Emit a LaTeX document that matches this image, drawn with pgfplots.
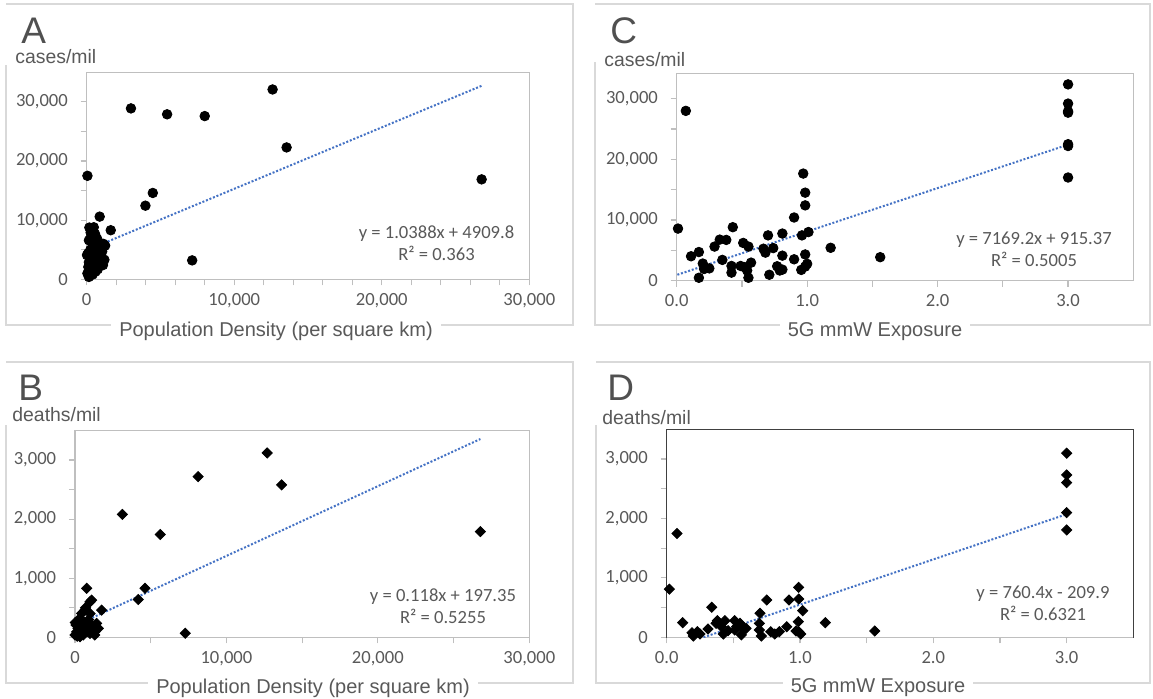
\documentclass[border=0pt]{standalone}
\usepackage{fontspec}
\setmainfont{Carlito}
\newfontfamily\hel{Liberation Sans}
\usepackage{pgfplots}
\pgfplotsset{compat=1.18}
\definecolor{txt}{HTML}{595959}
\definecolor{frm}{HTML}{D9D9D9}
\definecolor{boxc}{HTML}{BFBFBF}
\definecolor{trend}{HTML}{4472C4}
\newcommand{\tfont}{\fontsize{9.3}{11}\selectfont}
\pgfplotsset{
  common/.style={
    scale only axis, anchor=south west,
    axis line style={boxc, line width=0.6pt},
    tick style={boxc, line width=0.6pt},
    tick align=outside, major tick length=3pt, minor tick length=3pt,
    xtick pos=left, ytick pos=left,
    scaled ticks=false,
    /pgf/number format/assume math mode=true,
    every tick label/.append style={font=\tfont, text=txt},
    yticklabel style={font=\tfont, text=txt, xshift=-2.9pt},
    xticklabel style={font=\tfont, text=txt, yshift=-0.4pt},
    xmin=0, ymin=0, clip=true,
  },
  dens/.style={xmin=0, xmax=30000, xtick={0,10000,20000,30000},
    xticklabels={0,{10,000},{20,000},{30,000}}},
  expo/.style={xmin=0, xmax=3.5, xtick={0,1,2,3}, minor x tick num=1,
    xticklabels={0.0,1.0,2.0,3.0}},
  cases/.style={ytick={0,10000,20000,30000}, minor y tick num=1,
    yticklabels={0,{10,000},{20,000},{30,000}}},
  deaths/.style={ymax=3500, ytick={0,1000,2000,3000}, minor y tick num=1,
    yticklabels={0,{1,000},{2,000},{3,000}}},
  dot/.style={only marks, mark=*, mark size=2.4pt, mark options={draw=black, fill=black}},
  dia/.style={only marks, mark=square*, mark size=1.8pt, mark options={draw=black, fill=black, rotate=45}},
  tl/.style={draw=trend, line width=1pt, dash pattern=on 1pt off 0.9pt, mark=none},
}
\begin{document}
\begin{tikzpicture}
\path[use as bounding box] (0pt,0pt) rectangle (576.5pt,-349pt);
\begin{scope}[x=0.5pt,y=-0.5pt]
% frames
\draw[frm, line width=0.75pt] (6,65) -- (6,325) -- (573,325) -- (573,4) -- (6,4);
\draw[frm, line width=0.75pt] (595,62) -- (595,325) -- (1150,325) -- (1150,4) -- (595,4);
\draw[frm, line width=0.75pt] (6,425) -- (6,683) -- (573,683) -- (573,362) -- (6,362);
\draw[frm, line width=0.75pt] (596,425) -- (596,683) -- (1150,683) -- (1150,362) -- (596,362);
% letters
\node[anchor=base west, inner sep=0, text=txt!90!black, font=\hel\fontsize{18.5}{20}\selectfont] at (21,43) {A};
\node[anchor=base west, inner sep=0, text=txt!90!black, font=\hel\fontsize{18.5}{20}\selectfont] at (610,43) {C};
\node[anchor=base west, inner sep=0, text=txt!90!black, font=\hel\fontsize{18.5}{20}\selectfont] at (18,400) {B};
\node[anchor=base west, inner sep=0, text=txt!90!black, font=\hel\fontsize{18.5}{20}\selectfont] at (607,400) {D};
% y labels
\node[anchor=base west, inner sep=0, text=txt, font=\hel\fontsize{9.7}{11}\selectfont] at (15,63) {cases/mil};
\node[anchor=base west, inner sep=0, text=txt, font=\hel\fontsize{9.7}{11}\selectfont] at (604,66) {cases/mil};
\node[anchor=base west, inner sep=0, text=txt, font=\hel\fontsize{9.7}{11}\selectfont] at (12,421) {deaths/mil};
\node[anchor=base west, inner sep=0, text=txt, font=\hel\fontsize{9.7}{11}\selectfont] at (602,424) {deaths/mil};
% x labels
\node[anchor=base, fill=white, inner xsep=4pt, inner ysep=1pt, text=txt, font=\hel\fontsize{10}{12}\selectfont] at (276,336) {Population Density (per square km)};
\node[anchor=base, fill=white, inner xsep=4pt, inner ysep=1pt, text=txt, font=\hel\fontsize{10}{12}\selectfont] at (875,336) {5G mmW Exposure};
\node[anchor=base, fill=white, inner xsep=4pt, inner ysep=1pt, text=txt, font=\hel\fontsize{10}{12}\selectfont] at (313,693) {Population Density (per square km)};
\node[anchor=base, fill=white, inner xsep=4pt, inner ysep=1pt, text=txt, font=\hel\fontsize{10}{12}\selectfont] at (878,692) {5G mmW Exposure};
\end{scope}

% ---------------- A ----------------
\begin{axis}[common, dens, cases, at={(43.35pt,-139.65pt)}, width=221.3pt, height=103.5pt,
  ymax=35000, minor x tick num=4]
\addplot[tl] coordinates {(0,4909.8) (26770,32719)};
\addplot[dot] coordinates {
(12600,32100) (3000,28900) (5450,27900) (8000,27600) (13550,22300) (26770,16900)
(50,17500) (4480,14600) (3980,12450) (880,10600) (1630,8300) (7150,3200)
(180,8750) (480,8800) (270,7900) (560,7700) (300,7200) (700,6900) (150,6600)
(680,6400) (910,6100) (1130,6000) (1250,5700) (400,5500) (820,5300) (1050,4700)
(250,5000) (100,4400) (20,4100) (600,4300) (340,3800) (1020,3700) (1200,3300)
(680,3200) (900,2900) (450,2500) (150,2900) (790,2700) (1100,2400) (110,2100)
(500,2000) (750,1700) (300,1500) (600,1300) (50,1000) (230,700) (400,800) (150,400)
};
\end{axis}
\node[align=center, text=txt, font=\fontsize{9.3}{11.2}\selectfont, inner sep=0] at (218.25pt,-121.5pt) {y = 1.0388x + 4909.8\\R² = 0.363};

% ---------------- C ----------------
\begin{axis}[common, expo, cases, at={(338.35pt,-140.25pt)}, width=228.3pt, height=103.6pt,
  ymax=34200]
\addplot[tl] coordinates {(0.005,951) (3,22423)};
\addplot[dot] coordinates {
(0.01,8570) (0.11,4000) (0.17,4700) (0.17,450) (0.20,2800) (0.21,1900) (0.25,2000)
(0.29,5600) (0.33,6750) (0.38,6700) (0.35,3400) (0.43,8800) (0.42,2400) (0.42,1300)
(0.49,2400) (0.51,6200) (0.55,5600) (0.54,1650) (0.52,2200) (0.55,450) (0.57,2950)
(0.665,5250) (0.68,4600) (0.70,7450) (0.74,5350) (0.71,950) (0.77,2350) (0.79,1650)
(0.81,1800) (0.81,7750) (0.81,4100) (0.90,10400) (0.90,3500) (0.96,7450) (0.955,1750)
(0.97,17650) (0.985,14500) (0.985,12400) (0.985,4300) (1.0,2750) (0.985,2300)
(1.01,8000) (1.18,5400) (1.56,3850) (0.07,28000)
(3,32370) (3,29200) (3,27950) (3,27700) (3,22500) (3,22200) (3,17000)
};
\end{axis}
\node[align=center, text=txt, font=\fontsize{9.3}{11.2}\selectfont, inner sep=0] at (517pt,-124.5pt) {y = 7169.2x + 915.37\\R² = 0.5005};

% ---------------- B ----------------
\begin{axis}[common, dens, deaths, at={(37.5pt,-318.65pt)}, width=227.15pt, height=103.4pt,
  minor x tick num=1]
\addplot[tl] coordinates {(0,197.35) (26770,3356.2)};
\addplot[dia] coordinates {
(3130,2080) (5630,1740) (8130,2720) (12690,3120) (13640,2580) (26770,1790)
(4180,640) (4620,830) (7280,70) (1760,460)
(770,830) (1100,630) (990,600) (660,460) (440,405) (220,263) (66,207) (110,94)
(0,39) (440,123) (770,179) (1100,207) (1430,236) (1320,94) (990,67) (550,39)
(330,10) (1540,152) (20,250) (300,320) (600,260) (900,300) (1200,150) (200,150)
(500,180) (800,100) (400,60) (1000,400) (700,500) (150,20) (1300,40)
};
\end{axis}
\node[align=center, text=txt, font=\fontsize{9.3}{11.2}\selectfont, inner sep=0] at (221.5pt,-303.25pt) {y = 0.118x + 197.35\\R² = 0.5255};

% ---------------- D ----------------
\begin{axis}[common, expo, deaths, at={(333.35pt,-318.65pt)}, width=233.3pt, height=104pt,
  axis line style={draw=black!75}]
\draw[boxc, line width=0.6pt] (rel axis cs:0,0) -- (rel axis cs:1,0);
\addplot[tl] coordinates {(0.276,0) (3,2071.3)};
\addplot[dia] coordinates {
(0.02,810) (0.12,246) (0.19,77) (0.20,22) (0.23,94) (0.25,56) (0.31,140) (0.338,505)
(0.37,235) (0.38,280) (0.41,180) (0.437,280) (0.425,56) (0.46,112) (0.51,280) (0.525,180)
(0.51,123) (0.55,235) (0.56,40) (0.58,135) (0.595,150) (0.70,404) (0.695,235) (0.695,123)
(0.71,22) (0.75,628) (0.78,94) (0.81,56) (0.845,94) (0.90,178) (0.917,628) (0.97,106)
(0.99,840) (0.99,645) (0.987,263) (0.99,94) (1.005,56) (1.02,448) (1.19,246) (1.56,106)
(0.077,1747)
(3,3098) (3,2732) (3,2603) (3,2098) (3,1806)
};
\end{axis}
\node[align=center, text=txt, font=\fontsize{9.3}{11.2}\selectfont, inner sep=0] at (521.5pt,-301.5pt) {y = 760.4x - 209.9\\R² = 0.6321};
\end{tikzpicture}
\end{document}
